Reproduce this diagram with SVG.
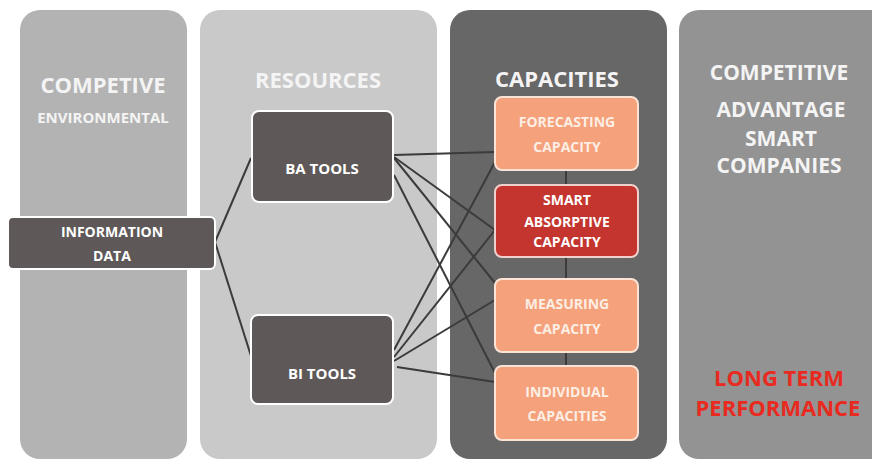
<svg xmlns="http://www.w3.org/2000/svg" width="872" height="459" viewBox="0 0 872 459">
<style>
.t{font-family:"Open Sans","Liberation Sans",sans-serif;font-weight:bold;text-anchor:middle}
.title{font-size:22px;fill:#f4f4f4}
.title2{font-size:21px;fill:#f4f4f4}
.sub{font-size:15px;fill:#f4f4f4}
.red{font-size:22px;fill:#e82a20}
.lbl{font-size:14px;fill:#ffffff}
.big{font-size:15px}
.lbl2{font-size:14px;fill:#fdeee4}
.dark{fill:#5e5858;stroke:#ffffff;stroke-width:2}
.salmon{fill:#f4a17c;stroke:#fbe3d6;stroke-width:2}
.redbox{fill:#c3352e;stroke:#f0d0cc;stroke-width:2}
.conn line{stroke:#3c3a3a;stroke-width:2;fill:none}
</style>
<rect width="872" height="459" fill="#ffffff"/>
<g id="panel-environment">
<rect x="20" y="10" width="167" height="449" rx="20" fill="#b3b3b3"/>
<text class="t title" x="103" y="93">COMPETIVE</text>
<text class="t sub" x="103" y="123">ENVIRONMENTAL</text>
</g>
<g id="panel-resources">
<rect x="200" y="10" width="237" height="449" rx="20" fill="#c9c9c9"/>
<text class="t title" x="318" y="88">RESOURCES</text>
</g>
<g id="panel-capacities">
<rect x="450" y="10" width="217" height="449" rx="20" fill="#676767"/>
<text class="t title" x="557" y="87">CAPACITIES</text>
</g>
<g id="panel-advantage">
<rect x="679" y="10" width="220" height="449" rx="20" fill="#939393"/>
<text class="t title2" x="779" y="80">COMPETITIVE</text>
<text class="t title2" x="781" y="117">ADVANTAGE</text>
<text class="t title2" x="781" y="146">SMART</text>
<text class="t title2" x="779" y="173">COMPANIES</text>
<text class="t red" x="779" y="386">LONG TERM</text>
<text class="t red" x="778" y="416">PERFORMANCE</text>
</g>
<g id="connectors" class="conn">
<line x1="215" y1="242" x2="251" y2="158"/>
<line x1="215" y1="242" x2="251" y2="356"/>
<line x1="394" y1="155" x2="495" y2="152"/>
<line x1="394" y1="157" x2="495" y2="230"/>
<line x1="394" y1="158" x2="495" y2="283"/>
<line x1="394" y1="175" x2="495" y2="373"/>
<line x1="394" y1="350" x2="495" y2="162"/>
<line x1="394" y1="357" x2="495" y2="230"/>
<line x1="394" y1="361" x2="495" y2="300"/>
<line x1="397" y1="367" x2="495" y2="382"/>
<line x1="566" y1="170" x2="566" y2="185"/>
<line x1="566" y1="257" x2="566" y2="279"/>
<line x1="566" y1="352" x2="566" y2="366"/>
</g>
<g id="information-data">
<rect class="dark" x="8" y="217" width="207" height="52" rx="5"/>
<text class="t lbl" x="112" y="237">INFORMATION</text>
<text class="t lbl" x="112" y="261">DATA</text>
</g>
<g id="ba-tools">
<rect class="dark" x="252" y="111" width="141" height="91" rx="7"/>
<text class="t lbl big" x="322" y="174">BA TOOLS</text>
</g>
<g id="bi-tools">
<rect class="dark" x="251" y="315" width="142" height="89" rx="7"/>
<text class="t lbl big" x="322" y="379">BI TOOLS</text>
</g>
<g id="forecasting">
<rect class="salmon" x="495" y="97" width="143" height="73" rx="7"/>
<text class="t lbl2" x="567" y="127">FORECASTING</text>
<text class="t lbl2" x="567" y="152">CAPACITY</text>
</g>
<g id="smart-absorptive">
<rect class="redbox" x="495" y="185" width="143" height="72" rx="7"/>
<text class="t lbl" x="567" y="205">SMART</text>
<text class="t lbl" x="567" y="227">ABSORPTIVE</text>
<text class="t lbl" x="567" y="247">CAPACITY</text>
</g>
<g id="measuring">
<rect class="salmon" x="495" y="279" width="143" height="73" rx="7"/>
<text class="t lbl2" x="567" y="309">MEASURING</text>
<text class="t lbl2" x="567" y="334">CAPACITY</text>
</g>
<g id="individual">
<rect class="salmon" x="495" y="366" width="143" height="74" rx="7"/>
<text class="t lbl2" x="567" y="397">INDIVIDUAL</text>
<text class="t lbl2" x="567" y="421">CAPACITIES</text>
</g>
</svg>
